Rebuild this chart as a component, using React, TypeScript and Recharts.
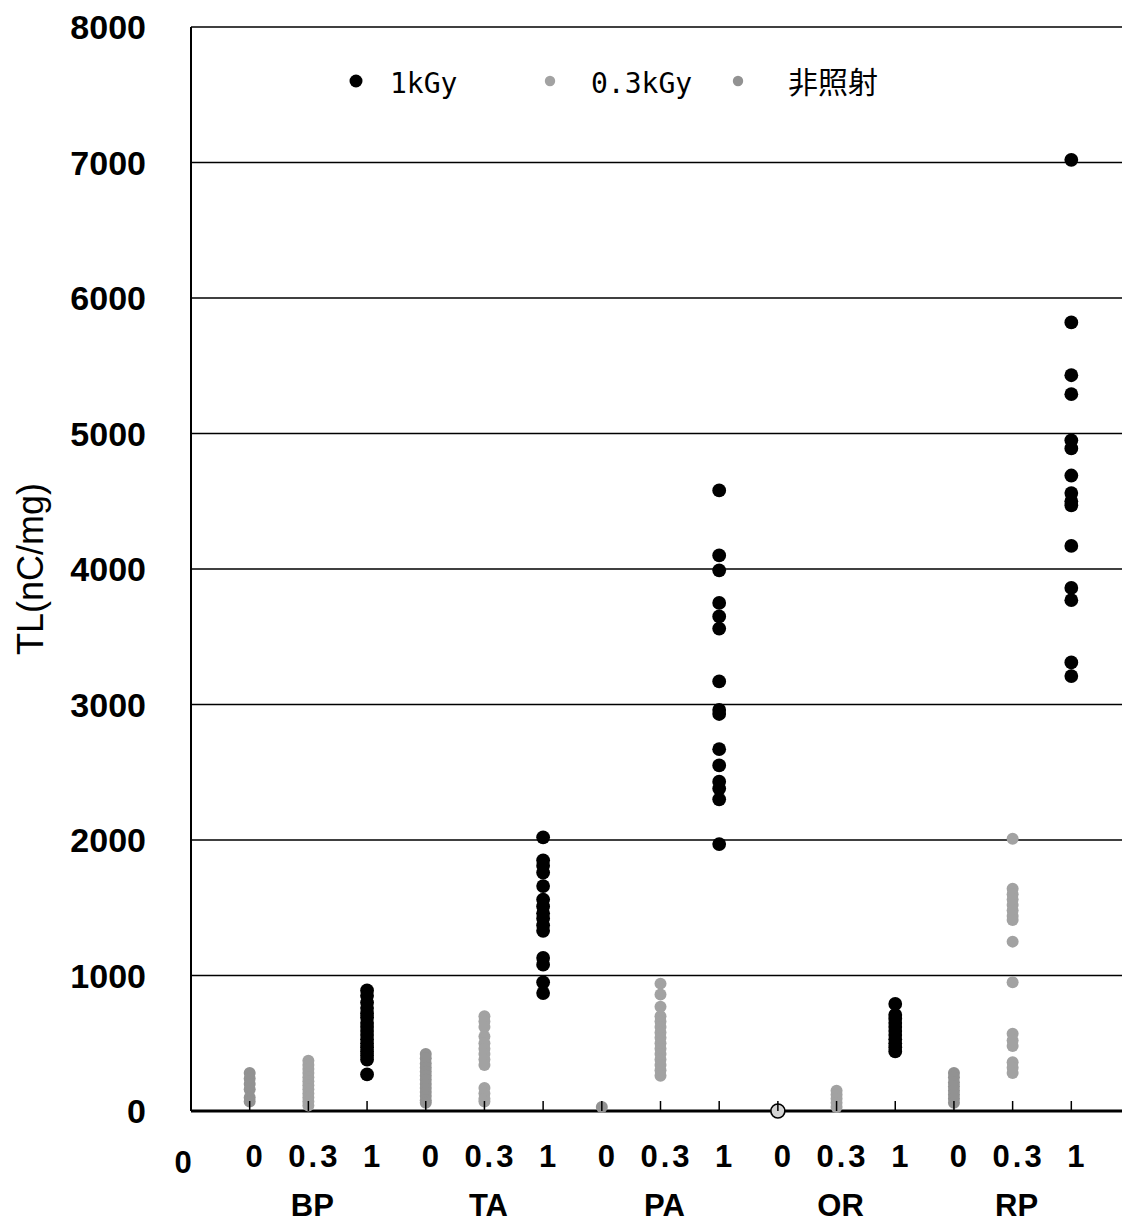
import React from "react";
import { ScatterChart, Scatter, XAxis, YAxis, CartesianGrid } from "recharts";

const GROUPS = ["BP", "TA", "PA", "OR", "RP"];
const DOSE_LABELS = ["0", "0.3", "1"];
const Y_TICKS = [0, 1000, 2000, 3000, 4000, 5000, 6000, 7000, 8000];
const X_TICKS = [0, 1, 2, 3, 4, 5, 6, 7, 8, 9, 10, 11, 12, 13, 14, 15];

// TL values per group (BP, TA, PA, OR, RP)
const TL_1KGY = [
  [890, 850, 800, 760, 720, 690, 650, 620, 590, 560, 530, 500, 470, 440, 410, 380, 270],
  [2020, 1850, 1810, 1760, 1660, 1560, 1510, 1460, 1420, 1370, 1330, 1130, 1080, 950, 870],
  [4580, 4100, 3990, 3750, 3650, 3560, 3170, 2960, 2930, 2670, 2550, 2430, 2380, 2300, 1970],
  [790, 710, 680, 650, 620, 590, 560, 530, 500, 470, 440],
  [7020, 5820, 5430, 5290, 4950, 4890, 4690, 4560, 4500, 4470, 4170, 3860, 3770, 3310, 3210],
];
const TL_03KGY = [
  [370, 340, 310, 280, 250, 220, 190, 160, 130, 100, 70, 40],
  [700, 660, 620, 550, 500, 460, 420, 380, 340, 170, 130, 90, 70],
  [940, 860, 770, 700, 660, 620, 580, 540, 500, 460, 420, 380, 340, 300, 260],
  [150, 120, 90, 60, 30],
  [2010, 1640, 1600, 1560, 1520, 1480, 1440, 1410, 1250, 950, 570, 520, 480, 360, 320, 280],
];
const TL_0KGY = [
  [280, 240, 200, 160, 100, 70],
  [420, 390, 350, 320, 290, 260, 230, 200, 170, 140, 110, 80, 60],
  [30],
  [0],
  [280, 250, 210, 180, 150, 120, 90, 60],
];
const OPEN_MARK_GROUPS = ["OR"];

const toPoints = (values: number[][], dose: number) =>
  values.flatMap((vals, g) =>
    vals.map((v) => ({ x: g * 3 + dose + 1, y: v, group: GROUPS[g] }))
  );

const SERIES = [
  { name: "1kGy", data: toPoints(TL_1KGY, 2), color: "#000000", r: 6.9 },
  { name: "0.3kGy", data: toPoints(TL_03KGY, 1), color: "#a2a2a2", r: 6 },
  { name: "非照射", data: toPoints(TL_0KGY, 0), color: "#929292", r: 6 },
];

const NUM_FONT = "'Liberation Sans', Arial, sans-serif";

const XTick = ({ x, y, payload }: any) => {
  const v = payload.value;
  if (v === 0) {
    return (
      <text x={x - 8} y={y + 62} textAnchor="middle" fontFamily={NUM_FONT} fontWeight="bold" fontSize={31} fill="#000">
        0
      </text>
    );
  }
  const g = Math.floor((v - 1) / 3);
  const d = (v - 1) % 3;
  return (
    <g>
      <line x1={x} y1={y} x2={x} y2={y - 10} stroke="#000" strokeWidth={1.5} />
      <text x={x + 6} y={y + 56} textAnchor="middle" fontFamily={NUM_FONT} fontWeight="bold" fontSize={31} letterSpacing={3} fill="#000">
        {DOSE_LABELS[d]}
      </text>
      {d === 1 && (
        <text x={x + 4} y={y + 105} textAnchor="middle" fontFamily={NUM_FONT} fontWeight="bold" fontSize={31} fill="#000">
          {GROUPS[g]}
        </text>
      )}
    </g>
  );
};

const YLabel = ({ viewBox }: any) => {
  const cy = viewBox.y + viewBox.height / 2;
  return (
    <text
      x={30}
      y={cy}
      transform={`rotate(-90, 30, ${cy})`}
      textAnchor="middle"
      dominantBaseline="central"
      fontFamily={NUM_FONT}
      fontSize={36}
      fill="#000"
    >
      TL(nC/mg)
    </text>
  );
};

const makeShape = (color: string, r: number) => (props: any) => {
  const { cx, cy, payload } = props;
  if (payload && payload.y === 0 && OPEN_MARK_GROUPS.includes(payload.group)) {
    return <circle cx={cx} cy={cy} r={7} fill="#d4d4d4" stroke="#000" strokeWidth={1.6} />;
  }
  return <circle cx={cx} cy={cy} r={r} fill={color} />;
};

const LEGEND_POS = [
  { dot: 356, text: 390 },
  { dot: 550, text: 591 },
  { dot: 738, text: 788 },
];

export default function App() {
  return (
    <div
      style={{
        position: "absolute",
        left: 0,
        top: 0,
        width: 1122,
        height: 1223,
        overflow: "hidden",
        background: "#fff",
      }}
    >
      <ScatterChart width={1130} height={1223} margin={{ top: 27, right: 0, bottom: 0, left: 0 }}>
        <CartesianGrid horizontal vertical={false} stroke="#000" strokeWidth={1.3} />
        <XAxis
          type="number"
          dataKey="x"
          domain={[0, 16]}
          ticks={X_TICKS}
          interval={0}
          height={112}
          tickSize={0}
          tickMargin={0}
          tickLine={false}
          axisLine={{ stroke: "#000", strokeWidth: 3 }}
          tick={(p: any) => <XTick {...p} />}
        />
        <YAxis
          type="number"
          dataKey="y"
          domain={[0, 8000]}
          ticks={Y_TICKS}
          interval={0}
          width={191}
          tickSize={0}
          tickMargin={45}
          tickLine={false}
          axisLine={{ stroke: "#000", strokeWidth: 2 }}
          tick={{ fill: "#000", fontSize: 34, fontWeight: "bold", fontFamily: NUM_FONT }}
          label={<YLabel />}
        />
        {SERIES.map((s) => (
          <Scatter
            key={s.name}
            name={s.name}
            data={s.data}
            fill={s.color}
            shape={makeShape(s.color, s.r)}
            isAnimationActive={false}
          />
        ))}
      </ScatterChart>
      <svg
        width={1122}
        height={130}
        style={{ position: "absolute", left: 0, top: 0, pointerEvents: "none" }}
      >
        {SERIES.map((s, i) => (
          <g key={s.name}>
            <circle cx={LEGEND_POS[i].dot} cy={81} r={i === 0 ? 6.5 : 5.2} fill={s.color} />
            <text
              x={LEGEND_POS[i].text}
              y={93}
              fontFamily={i === 2 ? "'Noto Sans CJK JP', sans-serif" : "'DejaVu Sans Mono', monospace"}
              fontSize={i === 2 ? 30 : 28}
              fill="#000"
            >
              {s.name}
            </text>
          </g>
        ))}
      </svg>
    </div>
  );
}
